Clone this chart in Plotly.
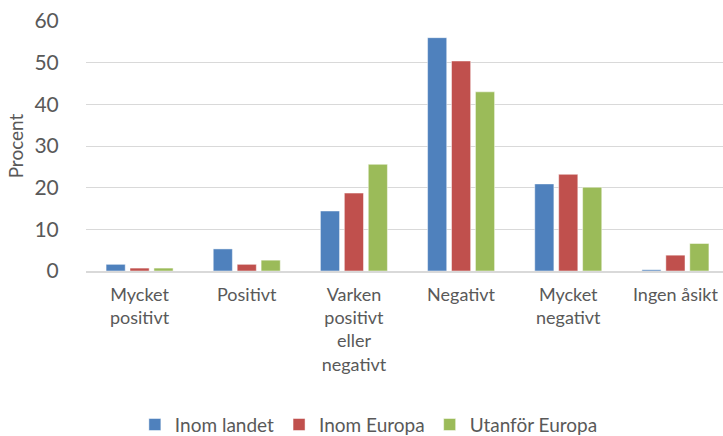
import plotly.graph_objects as go

categories = ["Mycket<br>positivt", "Positivt", "Varken<br>positivt<br>eller<br>negativt",
              "Negativt", "Mycket<br>negativt", "Ingen åsikt"]
series_names = ["Inom landet", "Inom Europa", "Utanför Europa"]
inom_landet = [1.6, 5.3, 14.4, 56.0, 20.9, 0.3]
inom_europa = [0.7, 1.6, 18.7, 50.4, 23.2, 3.8]
utanfor_europa = [0.7, 2.6, 25.6, 43.0, 20.1, 6.6]
colors = ["#4F81BD", "#C0504D", "#9BBB59"]
y_ticks = [0, 10, 20, 30, 40, 50, 60]

FONT = "Lato, Calibri, Carlito, sans-serif"
TXT = "#595959"

fig = go.Figure()
for name, vals, col in zip(series_names, [inom_landet, inom_europa, utanfor_europa], colors):
    fig.add_trace(go.Bar(x=categories, y=vals, name=name,
                         marker=dict(color=col, line=dict(color="rgba(255,255,255,0.6)", width=0.8))))

fig.update_layout(
    width=729, height=436,
    margin=dict(l=86, r=0, t=21, b=165, autoexpand=False),
    paper_bgcolor="white", plot_bgcolor="white",
    barmode="group", bargap=0.33, bargroupgap=0.2,
    font=dict(family=FONT, size=18, color=TXT),
    showlegend=True,
    legend=dict(orientation="h", x=0.506, xref="container", xanchor="center",
                y=0.026, yref="container", yanchor="middle",
                font=dict(family=FONT, size=19, color=TXT), traceorder="normal",
                itemwidth=30),
)
fig.update_xaxes(showgrid=False, showline=True, linecolor="#D9D9D9", linewidth=2,
                 ticks="outside", ticklen=6, tickcolor="rgba(0,0,0,0)",
                 tickfont=dict(family=FONT, size=18, color=TXT), fixedrange=True)
fig.update_yaxes(range=[0, 60], tickvals=y_ticks, showgrid=True, gridcolor="#D9D9D9",
                 gridwidth=1, zeroline=False, showline=False,
                 ticks="outside", ticklen=22, tickcolor="rgba(0,0,0,0)",
                 tickfont=dict(family=FONT, size=21, color=TXT),
                 title=dict(text="Procent", font=dict(family=FONT, size=19, color=TXT), standoff=5))

fig.write_html("out.html", config={"displayModeBar": False},
               post_script="document.body.style.margin='0';document.body.style.overflow='hidden';")
